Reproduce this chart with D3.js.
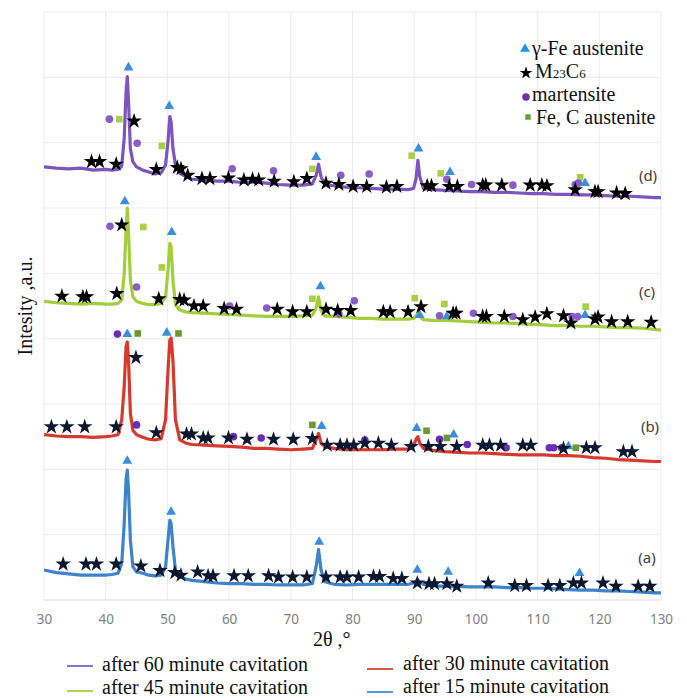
<!DOCTYPE html>
<html>
<head>
<meta charset="utf-8">
<script src="https://cdn.jsdelivr.net/npm/d3@7"></script>
<style>
html,body{margin:0;padding:0;background:#fff;}
svg{display:block;}
</style>
</head>
<body>
<svg id="chart" width="687" height="698"></svg>
<script>
// ---------- DATA ----------
const twoTheta = [30,32,34,36,38,40,41,42,42.6,43.0,43.3,43.5,43.7,44.0,44.4,45,46,47,48,49,49.7,50.1,50.4,50.6,50.9,51.3,52,53,54,56,58,60,62,64,66,68,70,72,73.5,74.1,74.5,74.9,75.5,77,79,81,83,85,87,89,89.9,90.3,90.6,90.9,91.5,93,95,97,99,101,103,105,107,109,111,113,115,117,119,121,123,125,127,129,130];

const intensity60 = [663,661,660,661,658,659,658,659,664,707,778,801,763,691,671,663,658,655,652,654,666,702,740,732,691,666,653,648,644,643,641,641,639,640,638,636,635,635,637,650,667,648,636,634,632,631,630,629,629,628,630,645,673,648,630,628,627,626,625,625,624,624,623,622,622,621,621,620,620,619,618,618,617,616,616];
const intensity45 = [457,455,454,453,454,453,453,454,459,500,566,600,561,490,464,457,454,452,452,454,464,505,546,541,490,452,444,441,440,439,438,437,436,435,434,434,434,435,436,447,464,443,435,434,433,431,431,430,430,430,431,435,439,434,429,428,428,427,426,425,424,424,423,422,421,420,420,419,419,418,417,417,416,414,413];
const intensity30 = [253,251,250,250,249,250,251,253,276,327,388,395,367,286,260,253,249,246,245,247,276,352,398,401,367,276,245,240,238,237,236,235,234,232,232,231,230,231,232,245,255,240,235,232,230,230,230,230,231,231,236,246,250,240,232,229,227,226,225,225,224,223,222,222,222,221,221,220,218,217,215,214,213,212,212];
const intensity15 = [46,42,40,38,38,38,39,41,56,117,184,199,168,92,51,43,41,38,37,38,51,92,122,117,82,46,36,32,30,28,26,25,25,24,24,23,23,23,25,51,77,46,28,24,23,24,24,24,24,24,26,29,31,27,24,22,21,21,20,20,20,19,19,18,18,17,16,15,15,14,14,13,12,11,11];

// phase marks: [2theta, intensity]
const gammaFe60 = [[43.7,815],[50.3,756],[74.1,678],[90.7,691],[95.8,655],[117.7,638]];
const m23c6_60 = [[37.7,671],[39.0,671],[41.7,667],[44.6,733],[48.2,659],[51.6,662],[52.2,660],[53.3,650],[55.6,645],[56.9,645],[59.9,646],[62.4,643],[63.8,644],[64.8,643],[67.3,641],[70.5,640],[72.6,645],[75.7,638],[77.8,636],[80.1,633],[82.3,633],[85.5,632],[87.2,633],[92.1,634],[92.8,634],[95.7,633],[97.0,633],[101.1,635],[101.6,635],[104.2,635],[108.8,635],[110.7,635],[111.5,634],[116.1,628],[119.3,625],[119.8,625],[122.8,623],[124.2,622]];
const martensite60 = [[40.6,736],[45.1,699],[60.5,660],[67.2,657],[78.1,650],[82.7,652],[95.3,644],[99.3,636],[106.0,635],[116.1,636],[116.6,638]];
const feC60 = [[42.2,736],[49.1,695],[73.5,660],[89.6,680],[94.3,653],[116.9,647]];

const gammaFe45 = [[43.1,610],[50.7,563],[74.8,480],[90.9,436],[95.3,434],[117.7,436]];
const m23c6_45 = [[32.9,465],[36.3,464],[36.9,464],[41.8,469],[42.6,574],[48.6,461],[52.0,460],[52.7,459],[54.3,450],[55.8,450],[59.2,446],[61.2,445],[67.8,445],[70.3,441],[72.6,441],[75.7,445],[77.6,443],[79.7,443],[85.0,441],[86.1,441],[89.0,441],[91.1,449],[96.3,439],[96.8,439],[101.1,434],[101.7,434],[104.6,434],[107.6,429],[109.6,433],[111.5,438],[114.2,435],[115.4,424],[119.3,430],[119.8,433],[122.0,426],[124.6,426],[128.4,425]];
const martensite45 = [[40.7,572],[45.0,479],[60.1,450],[66.1,447],[77.8,438],[80.3,458],[94.1,435],[99.6,439],[106.0,434],[115.6,434],[116.5,434]];
const feC45 = [[46.1,571],[49.1,509],[73.5,461],[90.1,462],[94.9,453],[117.8,449]];

const gammaFe30 = [[43.5,407],[49.9,409],[75.0,266],[90.4,263],[96.4,253],[115.0,235]];
const m23c6_30 = [[31.2,265],[33.7,265],[36.6,265],[41.7,265],[44.9,371],[48.2,256],[53.1,254],[53.9,254],[55.8,248],[56.6,248],[59.9,248],[62.9,246],[67.2,246],[70.4,246],[73.5,247],[75.9,237],[78.0,237],[79.1,237],[80.2,237],[82.0,240],[84.2,240],[86.3,237],[89.5,235],[92.3,235],[94.2,235],[96.9,235],[101.1,237],[102.2,237],[104.0,237],[107.6,237],[108.9,237],[114.2,232],[117.9,233],[119.3,233],[123.9,227],[125.3,227]];
const martensite30 = [[41.9,407],[45.0,268],[60.7,250],[65.2,248],[82.0,245],[94.1,246],[98.6,238],[104.9,233],[111.9,233],[112.6,233],[113.9,233]];
const feC30 = [[45.2,408],[51.8,408],[73.5,268],[92.0,259],[95.3,248],[116.2,233]];

const gammaFe15 = [[43.5,213],[50.6,135],[74.6,89],[90.5,46],[95.5,43],[116.8,41]];
const m23c6_15 = [[33.1,55],[36.8,55],[38.5,55],[41.7,55],[45.7,52],[48.8,45],[51.2,42],[52.2,38],[54.9,43],[56.6,37],[57.4,37],[60.8,37],[63.1,37],[66.4,37],[68.0,35],[70.3,35],[72.6,35],[75.7,35],[78.0,35],[79.1,35],[81.0,35],[83.4,36],[84.4,36],[86.6,33],[88.0,33],[90.5,26],[92.4,25],[93.3,25],[95.3,25],[96.9,21],[102.0,26],[106.3,22],[108.2,22],[111.7,22],[113.6,22],[115.8,26],[117.1,26],[120.6,26],[122.7,21],[126.3,21],[128.2,21]];

const xTicks = [30,40,50,60,70,80,90,100,110,120,130];
const yGrid = [0,100,200,300,400,500,600,700,800,900];
const seriesNames = ["after 60 minute cavitation","after 45 minute cavitation","after 30 minute cavitation","after 15 minute cavitation"];
const curveLabels = ["(d)","(c)","(b)","(a)"];
const phaseNames = ["γ-Fe austenite","M23C6","martensite","Fe, C austenite"];

// ---------- DRAW ----------
const svg = d3.select("#chart");
const x = d3.scaleLinear().domain([30,130]).range([44,661]);
const y = d3.scaleLinear().domain([0,900]).range([600,12]);

const serif = "'Liberation Serif','Times New Roman',serif";
const sans = "'Noto Sans','Open Sans',sans-serif";

// grid
const grid = svg.append("g");
grid.selectAll("line.v").data(xTicks).join("line")
  .attr("x1",d=>x(d)).attr("x2",d=>x(d)).attr("y1",y(900)).attr("y2",y(0))
  .attr("stroke","#ebebeb").attr("stroke-width",1);
grid.selectAll("line.h").data(yGrid).join("line")
  .attr("x1",x(30)).attr("x2",x(130)).attr("y1",d=>y(d)).attr("y2",d=>y(d))
  .attr("stroke",d=>d===0?"#dcdcdc":"#ebebeb").attr("stroke-width",1);

// x axis ticks
const xAxis = d3.axisBottom(x).tickValues(xTicks).tickSize(0).tickPadding(14);
const gx = svg.append("g").attr("transform",`translate(0,${y(0)})`).call(xAxis);
gx.select(".domain").remove();
gx.selectAll("text").attr("fill","#808080").attr("font-size",13.5).attr("font-family",sans);

// lines
const seriesData = [
  {vals:intensity60,color:"#7c55bf"},
  {vals:intensity45,color:"#a3cd3c"},
  {vals:intensity30,color:"#d63a2f"},
  {vals:intensity15,color:"#3d84cb"}
];
const line = d3.line().x((d,i)=>x(twoTheta[i])).y(d=>y(d));
svg.append("g").selectAll("path").data(seriesData.slice().reverse()).join("path")
  .attr("d",d=>line(d.vals)).attr("fill","none").attr("stroke",d=>d.color)
  .attr("stroke-width",3.2).attr("stroke-linejoin","round");

// markers
const sym = {
  tri: d3.symbol().type(d3.symbolTriangle).size(42),
  star: d3.symbol().type(d3.symbolStar).size(74),
  sq: d3.symbol().type(d3.symbolSquare).size(44)
};
function marks(g, data, kind, color){
  if(kind==="circle"){
    g.selectAll(null).data(data).join("circle")
      .attr("cx",d=>x(d[0])).attr("cy",d=>y(d[1])).attr("r",3.8).attr("fill",color);
  } else {
    g.selectAll(null).data(data).join("path")
      .attr("d",sym[kind]()).attr("transform",d=>`translate(${x(d[0])},${y(d[1])})`)
      .attr("fill",color);
  }
}
const mg = svg.append("g");
const bands = [
  {tri:gammaFe60, star:m23c6_60, circ:martensite60, sq:feC60, starC:"#000000", circC:"#8a5cc6", sqC:"#a8cf48"},
  {tri:gammaFe45, star:m23c6_45, circ:martensite45, sq:feC45, starC:"#000000", circC:"#8a5cc6", sqC:"#a8cf48"},
  {tri:gammaFe30, star:m23c6_30, circ:martensite30, sq:feC30, starC:"#0c1830", circC:"#6a2db6", sqC:"#6a9a2c"},
  {tri:gammaFe15, star:m23c6_15, circ:[], sq:[], starC:"#0c1830", circC:"#6a2db6", sqC:"#6a9a2c"}
];
bands.forEach(b=>{
  const g = mg.append("g");
  marks(g, b.sq, "sq", b.sqC);
  marks(g, b.circ, "circle", b.circC);
  marks(g, b.tri, "tri", "#3b8edb");
  marks(g, b.star, "star", b.starC);
});

// curve labels
const labelPos = [[648,181],[647,297],[650,432],[647,563]];
svg.append("g").selectAll("text").data(curveLabels).join("text")
  .attr("x",(d,i)=>labelPos[i][0]).attr("y",(d,i)=>labelPos[i][1])
  .attr("text-anchor","middle").attr("font-family",sans).attr("font-size",15)
  .attr("fill","#404040").text(d=>d);

// axis titles
svg.append("text").attr("x",313).attr("y",646).attr("font-family",serif)
  .attr("font-size",20).attr("fill","#111").text("2θ ,°");
svg.append("text").attr("transform","translate(32,306) rotate(-90)")
  .attr("text-anchor","middle").attr("font-family",serif).attr("font-size",20)
  .attr("fill","#111").text("Intesity ,a.u.");

// phase legend (top right)
const pl = svg.append("g");
const plY = [55,78,101,124];
const plMarkX = 525;
pl.append("path").attr("d",d3.symbol().type(d3.symbolTriangle).size(42)())
  .attr("transform",`translate(${plMarkX},${plY[0]-6})`).attr("fill","#1f95e0");
pl.append("path").attr("d",d3.symbol().type(d3.symbolStar).size(50)())
  .attr("transform",`translate(${plMarkX+1},${plY[1]-5})`).attr("fill","#000");
pl.append("circle").attr("cx",plMarkX+1).attr("cy",plY[2]-4).attr("r",3.8).attr("fill","#7030a0");
pl.append("path").attr("d",d3.symbol().type(d3.symbolSquare).size(30)())
  .attr("transform",`translate(${plMarkX+3},${plY[3]-7})`).attr("fill","#5fa52e");
const plText = pl.append("g").attr("font-family",serif).attr("font-size",20).attr("fill","#111");
plText.append("text").attr("x",532).attr("y",plY[0]).text(phaseNames[0]);
const mt = plText.append("text").attr("x",535).attr("y",plY[1]);
mt.append("tspan").text("M");
mt.append("tspan").attr("font-size",13).text("23");
mt.append("tspan").text("C");
mt.append("tspan").attr("font-size",13).text("6");
plText.append("text").attr("x",532).attr("y",plY[2]).text(phaseNames[2]);
plText.append("text").attr("x",536).attr("y",plY[3]).text(phaseNames[3]);

// series legend (bottom)
const legPos = [[67,671,102,666],[67,694,102,691],[367,670,403,669],[367,693,403,692]];
const lg = svg.append("g");
seriesData.forEach((s,i)=>{
  const [lx,ly,tx,lineY] = legPos[i];
  lg.append("line").attr("x1",lx).attr("x2",lx+26).attr("y1",lineY).attr("y2",lineY)
    .attr("stroke",s.color).attr("stroke-width",2).attr("opacity",0.85);
  lg.append("text").attr("x",tx).attr("y",ly).attr("font-family",serif).attr("font-size",20)
    .attr("fill","#111").text(seriesNames[i]);
});
</script>
</body>
</html>
